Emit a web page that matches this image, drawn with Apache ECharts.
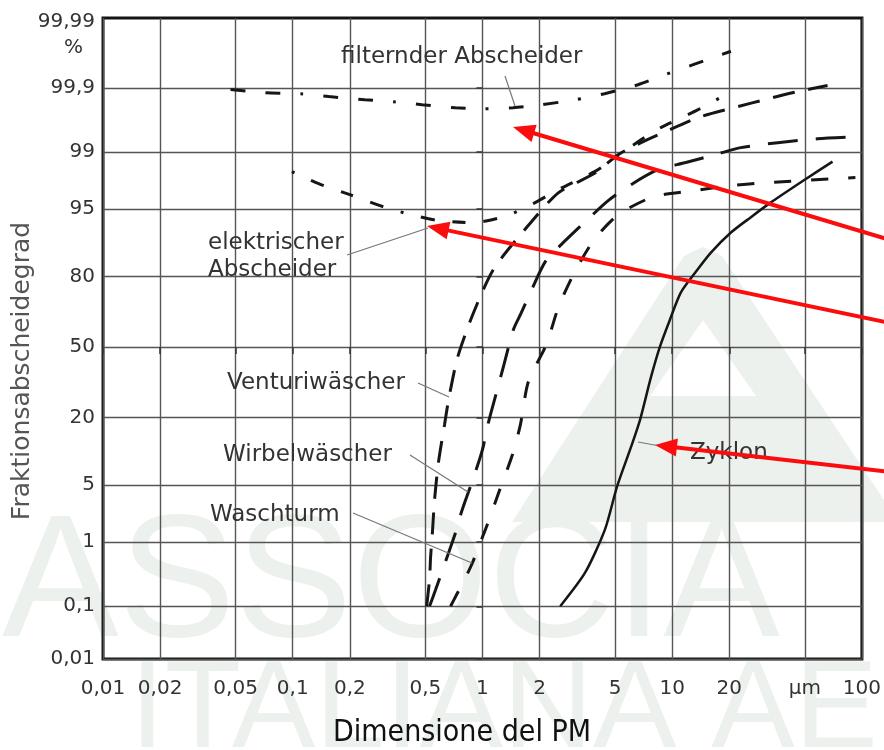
<!DOCTYPE html>
<html>
<head>
<meta charset="utf-8">
<script src="https://cdn.jsdelivr.net/npm/echarts@6/dist/echarts.min.js"></script>
<style>
html,body{margin:0;padding:0;background:#fff}
#main{width:884px;height:750px}
</style>
</head>
<body>
<div id="main"></div>
<script>
// axis ticks (particle size in µm, efficiency in %)
var xTicks = [0.01, 0.02, 0.05, 0.1, 0.2, 0.5, 1, 2, 5, 10, 20, 50, 100];
var xTickLabels = ['0,01', '0,02', '0,05', '0,1', '0,2', '0,5', '1', '2', '5', '10', '20', 'µm', '100'];
var yTicks = [0.01, 0.1, 1, 5, 20, 50, 80, 95, 99, 99.9, 99.99];
var yTickLabels = ['0,01', '0,1', '1', '5', '20', '50', '80', '95', '99', '99,9', '99,99'];
var yTopPct = 99.99564;

// filternder Abscheider
var filterSize = [0.047, 0.072, 0.11, 0.155, 0.24, 0.34, 0.48, 0.72, 1.02, 1.45, 2.04, 3.1, 4.4, 6.6, 9.2, 12.9, 20.4];
var filterEff = [99.893, 99.879, 99.874, 99.859, 99.841, 99.828, 99.807, 99.784, 99.776, 99.784, 99.807, 99.841, 99.874, 99.912, 99.942, 99.962, 99.979];
// elektrischer Abscheider
var elekSize = [0.099, 0.137, 0.2, 0.3, 0.42, 0.59, 0.9, 1.34, 1.85, 2.5, 3.9, 5.3, 6.85, 8.7, 13.7, 20.4];
var elekEff = [98.18, 97.43, 96.54, 95.29, 94.28, 93.41, 93.1, 94.14, 95.64, 96.97, 98.18, 98.91, 99.33, 99.555, 99.768, 99.884];
// Venturiwäscher
var ventSize = [0.508, 0.526, 0.533, 0.546, 0.559, 0.587, 0.631, 0.663, 0.739, 0.897, 1.14, 1.64, 2.51, 3.88, 5.19, 6.85, 8.94, 13.7, 21.1, 33.8, 45.8, 65.9];
var ventEff = [0.1, 0.28, 0.62, 1.47, 3.44, 8.6, 17.7, 26.5, 45, 65.9, 82.2, 91.6, 96.7, 98.07, 98.91, 99.26, 99.47, 99.69, 99.784, 99.853, 99.884, 99.909];
// Wirbelwäscher
var wirbSize = [0.526, 0.566, 0.671, 0.721, 0.776, 0.897, 1.0, 1.075, 1.185, 1.289, 1.455, 1.603, 1.788, 2.144, 2.6, 3.48, 4.6, 6.07, 8.42, 11.8, 17.4, 23, 36, 58.4, 92.4];
var wirbEff = [0.1, 0.19, 0.78, 1.34, 2.48, 5.97, 11.07, 18.4, 29.3, 40.7, 58.2, 65.9, 74.2, 84.6, 88.9, 93.25, 95.96, 97.36, 98.28, 98.61, 98.94, 99.13, 99.26, 99.35, 99.39];
// Waschturm
var waschSize = [0.679, 0.73, 0.804, 0.886, 0.964, 1.05, 1.228, 1.438, 1.584, 1.745, 2.17, 2.51, 3.045, 3.88, 5.19, 7.46, 8.94, 12.9, 20.4, 31.9, 92.4];
var waschEff = [0.1, 0.157, 0.277, 0.507, 0.92, 1.61, 4.34, 9.97, 17.7, 34.0, 51.1, 68.1, 81.2, 90.0, 94.28, 96.16, 96.54, 96.89, 97.29, 97.51, 97.84];
// Zyklon
var zykSize = [2.57, 3.48, 4.43, 5.12, 6.07, 6.77, 7.73, 8.62, 9.73, 11.1, 13.2, 16.0, 20.4, 25.9, 33.0, 49.9, 70.0];
var zykEff = [0.1, 0.36, 1.5, 4.8, 11.7, 19.3, 36, 50.2, 62.8, 74.2, 81.2, 87.0, 91.4, 93.9, 95.75, 97.7, 98.65];

// inverse normal (probability paper)
function probit(p) {
  var a = [-39.69683028665376, 220.9460984245205, -275.9285104469687, 138.3577518672690, -30.66479806614716, 2.506628277459239];
  var b = [-54.47609879822406, 161.5858368580409, -155.6989798598866, 66.80131188771972, -13.28068155288572];
  var c = [-0.007784894002430293, -0.3223964580411365, -2.400758277161838, -2.549671010446228, 4.374664141464968, 2.938163982698783];
  var d = [0.007784695709041462, 0.3224671290700398, 2.445134137142996, 3.754408661907416];
  var q, r;
  if (p < 0.02425) {
    q = Math.sqrt(-2 * Math.log(p));
    return (((((c[0]*q+c[1])*q+c[2])*q+c[3])*q+c[4])*q+c[5]) / ((((d[0]*q+d[1])*q+d[2])*q+d[3])*q+1);
  }
  if (p > 1 - 0.02425) {
    q = Math.sqrt(-2 * Math.log(1 - p));
    return -(((((c[0]*q+c[1])*q+c[2])*q+c[3])*q+c[4])*q+c[5]) / ((((d[0]*q+d[1])*q+d[2])*q+d[3])*q+1);
  }
  q = p - 0.5; r = q * q;
  return (((((a[0]*r+a[1])*r+a[2])*r+a[3])*r+a[4])*r+a[5])*q / (((((b[0]*r+b[1])*r+b[2])*r+b[3])*r+b[4])*r+1);
}
function P(pct) { return probit(pct / 100); }
function lg(v) { return Math.log10(v); }
function findIdx(v, arr) {
  for (var i = 0; i < arr.length; i++) if (Math.abs(arr[i] - v) < 1e-6) return i;
  return -1;
}

var xPos = xTicks.map(lg);
var yPos = yTicks.map(P);
var yGridPos = yPos.slice(0, yPos.length - 1);

var ink = '#161616';
var font = 'DejaVu Sans';

function curve(name, sizes, effs, dash, width) {
  return {
    name: name, type: 'line', silent: true, showSymbol: false,
    smooth: 0.25,
    data: sizes.map(function (s, i) { return [lg(s), P(effs[i])]; }),
    lineStyle: { color: ink, width: width, type: dash, cap: 'butt' }
  };
}

var chart = echarts.init(document.getElementById('main'));

var option = {
  animation: false,
  backgroundColor: '#fff',
  grid: { left: 103, right: 20, top: 18, bottom: 91, show: true, borderColor: '#141414', borderWidth: 3, backgroundColor: 'transparent' },
  xAxis: {
    type: 'value', min: lg(0.01), max: lg(100),
    axisLine: { show: false },
    axisTick: { show: true, customValues: xPos, length: 7, lineStyle: { color: '#333', width: 1.5 } },
    splitLine: { show: true, lineStyle: { color: '#555', width: 1.4 } },
    axisLabel: {
      customValues: xPos, margin: 20, color: '#333', fontSize: 20, fontFamily: font,
      formatter: function (v) { var i = findIdx(v, xPos); return i < 0 ? '' : xTickLabels[i]; }
    }
  },
  yAxis: {
    type: 'value', min: P(0.01), max: P(yTopPct),
    axisLine: { show: false },
    axisTick: { show: true, customValues: yGridPos, length: 6, lineStyle: { color: '#333', width: 1.5 } },
    splitLine: { show: true, lineStyle: { color: '#555', width: 1.4 } },
    axisLabel: {
      customValues: yPos, margin: 8, color: '#333', fontSize: 20, fontFamily: font,
      formatter: function (v) {
        var i = findIdx(v, yPos);
        if (i < 0) return '';
        if (i === yPos.length - 1) return '{a|' + yTickLabels[i] + '}\n{b|%}';
        return yTickLabels[i];
      },
      rich: {
        a: { fontSize: 20, fontFamily: font, color: '#333', lineHeight: 26 },
        b: { fontSize: 20, fontFamily: font, color: '#333', lineHeight: 26, padding: [0, 12, 0, 0] }
      }
    }
  },
  series: [
    curve('filternder Abscheider', filterSize, filterEff, [15, 20, 15, 20, 3, 20], 3),
    curve('elektrischer Abscheider', elekSize, elekEff, [3, 18, 14, 18, 13, 18, 14, 18], 3),
    curve('Venturiwäscher', ventSize, ventEff, [22, 14], 3),
    curve('Wirbelwäscher', wirbSize, wirbEff, [30, 18], 3),
    curve('Waschturm', waschSize, waschEff, [17, 20], 3),
    curve('Zyklon', zykSize, zykEff, 'solid', 2.5)
  ]
};
chart.setOption(option);

// annotations, leader lines and red arrows (layout in pixels)
var noteStyle = { fill: '#333', font: '23px "DejaVu Sans"' };
var notes = [
  { t: 'filternder Abscheider', x: 341, y: 57 },
  { t: 'elektrischer\nAbscheider', x: 208, y: 257 },
  { t: 'Venturiwäscher', x: 227, y: 383 },
  { t: 'Wirbelwäscher', x: 223, y: 455 },
  { t: 'Waschturm', x: 210, y: 515 },
  { t: 'Zyklon', x: 690, y: 453 }
];
var leaders = [
  [505, 76, 515, 106], [347, 255, 428, 228], [418, 383, 449, 397],
  [410, 455, 468, 492], [353, 513, 472, 563], [638, 442, 660, 446]
];
var arrows = [
  [890, 240, 513, 127], [890, 323, 427, 226], [890, 472, 655, 445]
];

var g = [];
// faint watermark of the slide background
var wm = '#ecf1ed';
g.push({ type: 'polygon', z: -10, shape: { points: [[684, 256], [703, 247], [722, 256], [884, 500], [884, 522], [512, 522]] }, style: { fill: wm } });
g.push({ type: 'polygon', z: -9, shape: { points: [[703, 320], [756, 396], [650, 396]] }, style: { fill: '#fff' } });
g.push({ type: 'text', z: -8, left: 2, top: 500, style: { text: 'ASSOCIA', fill: wm, font: '175px "Liberation Sans"' } });
g.push({ type: 'text', z: -8, left: 130, top: 650, style: { text: 'ITALIANA AEI', fill: wm, font: '125px "Liberation Sans"' } });

notes.forEach(function (n) {
  g.push({ type: 'text', z: 50, x: n.x, y: n.y, style: { text: n.t, fill: noteStyle.fill, font: noteStyle.font, textVerticalAlign: 'middle', lineHeight: 27 } });
});
leaders.forEach(function (l) {
  g.push({ type: 'line', z: 50, shape: { x1: l[0], y1: l[1], x2: l[2], y2: l[3] }, style: { stroke: '#777', lineWidth: 1.2 } });
});
arrows.forEach(function (a) {
  var dx = a[2] - a[0], dy = a[3] - a[1], len = Math.sqrt(dx * dx + dy * dy);
  var ux = dx / len, uy = dy / len, hl = 22, hw = 9;
  var bx = a[2] - ux * hl, by = a[3] - uy * hl;
  g.push({ type: 'line', z: 60, shape: { x1: a[0], y1: a[1], x2: bx + ux * 2, y2: by + uy * 2 }, style: { stroke: '#fb0d0d', lineWidth: 4 } });
  g.push({ type: 'polygon', z: 60, shape: { points: [[a[2], a[3]], [bx - uy * hw, by + ux * hw], [bx + uy * hw, by - ux * hw]] }, style: { fill: '#fb0d0d' } });
});
g.push({ type: 'text', z: 50, x: 22, y: 371, rotation: Math.PI / 2, style: { text: 'Fraktionsabscheidegrad', fill: '#555', font: '25px "DejaVu Sans"', textAlign: 'center', textVerticalAlign: 'middle' } });
g.push({ type: 'text', z: 50, x: 462, y: 733, style: { text: 'Dimensione del PM', fill: '#111', font: '30px "DejaVu Sans Condensed", "DejaVu Sans"', textAlign: 'center', textVerticalAlign: 'middle' } });

chart.setOption({ graphic: { elements: g } });
</script>
</body>
</html>
